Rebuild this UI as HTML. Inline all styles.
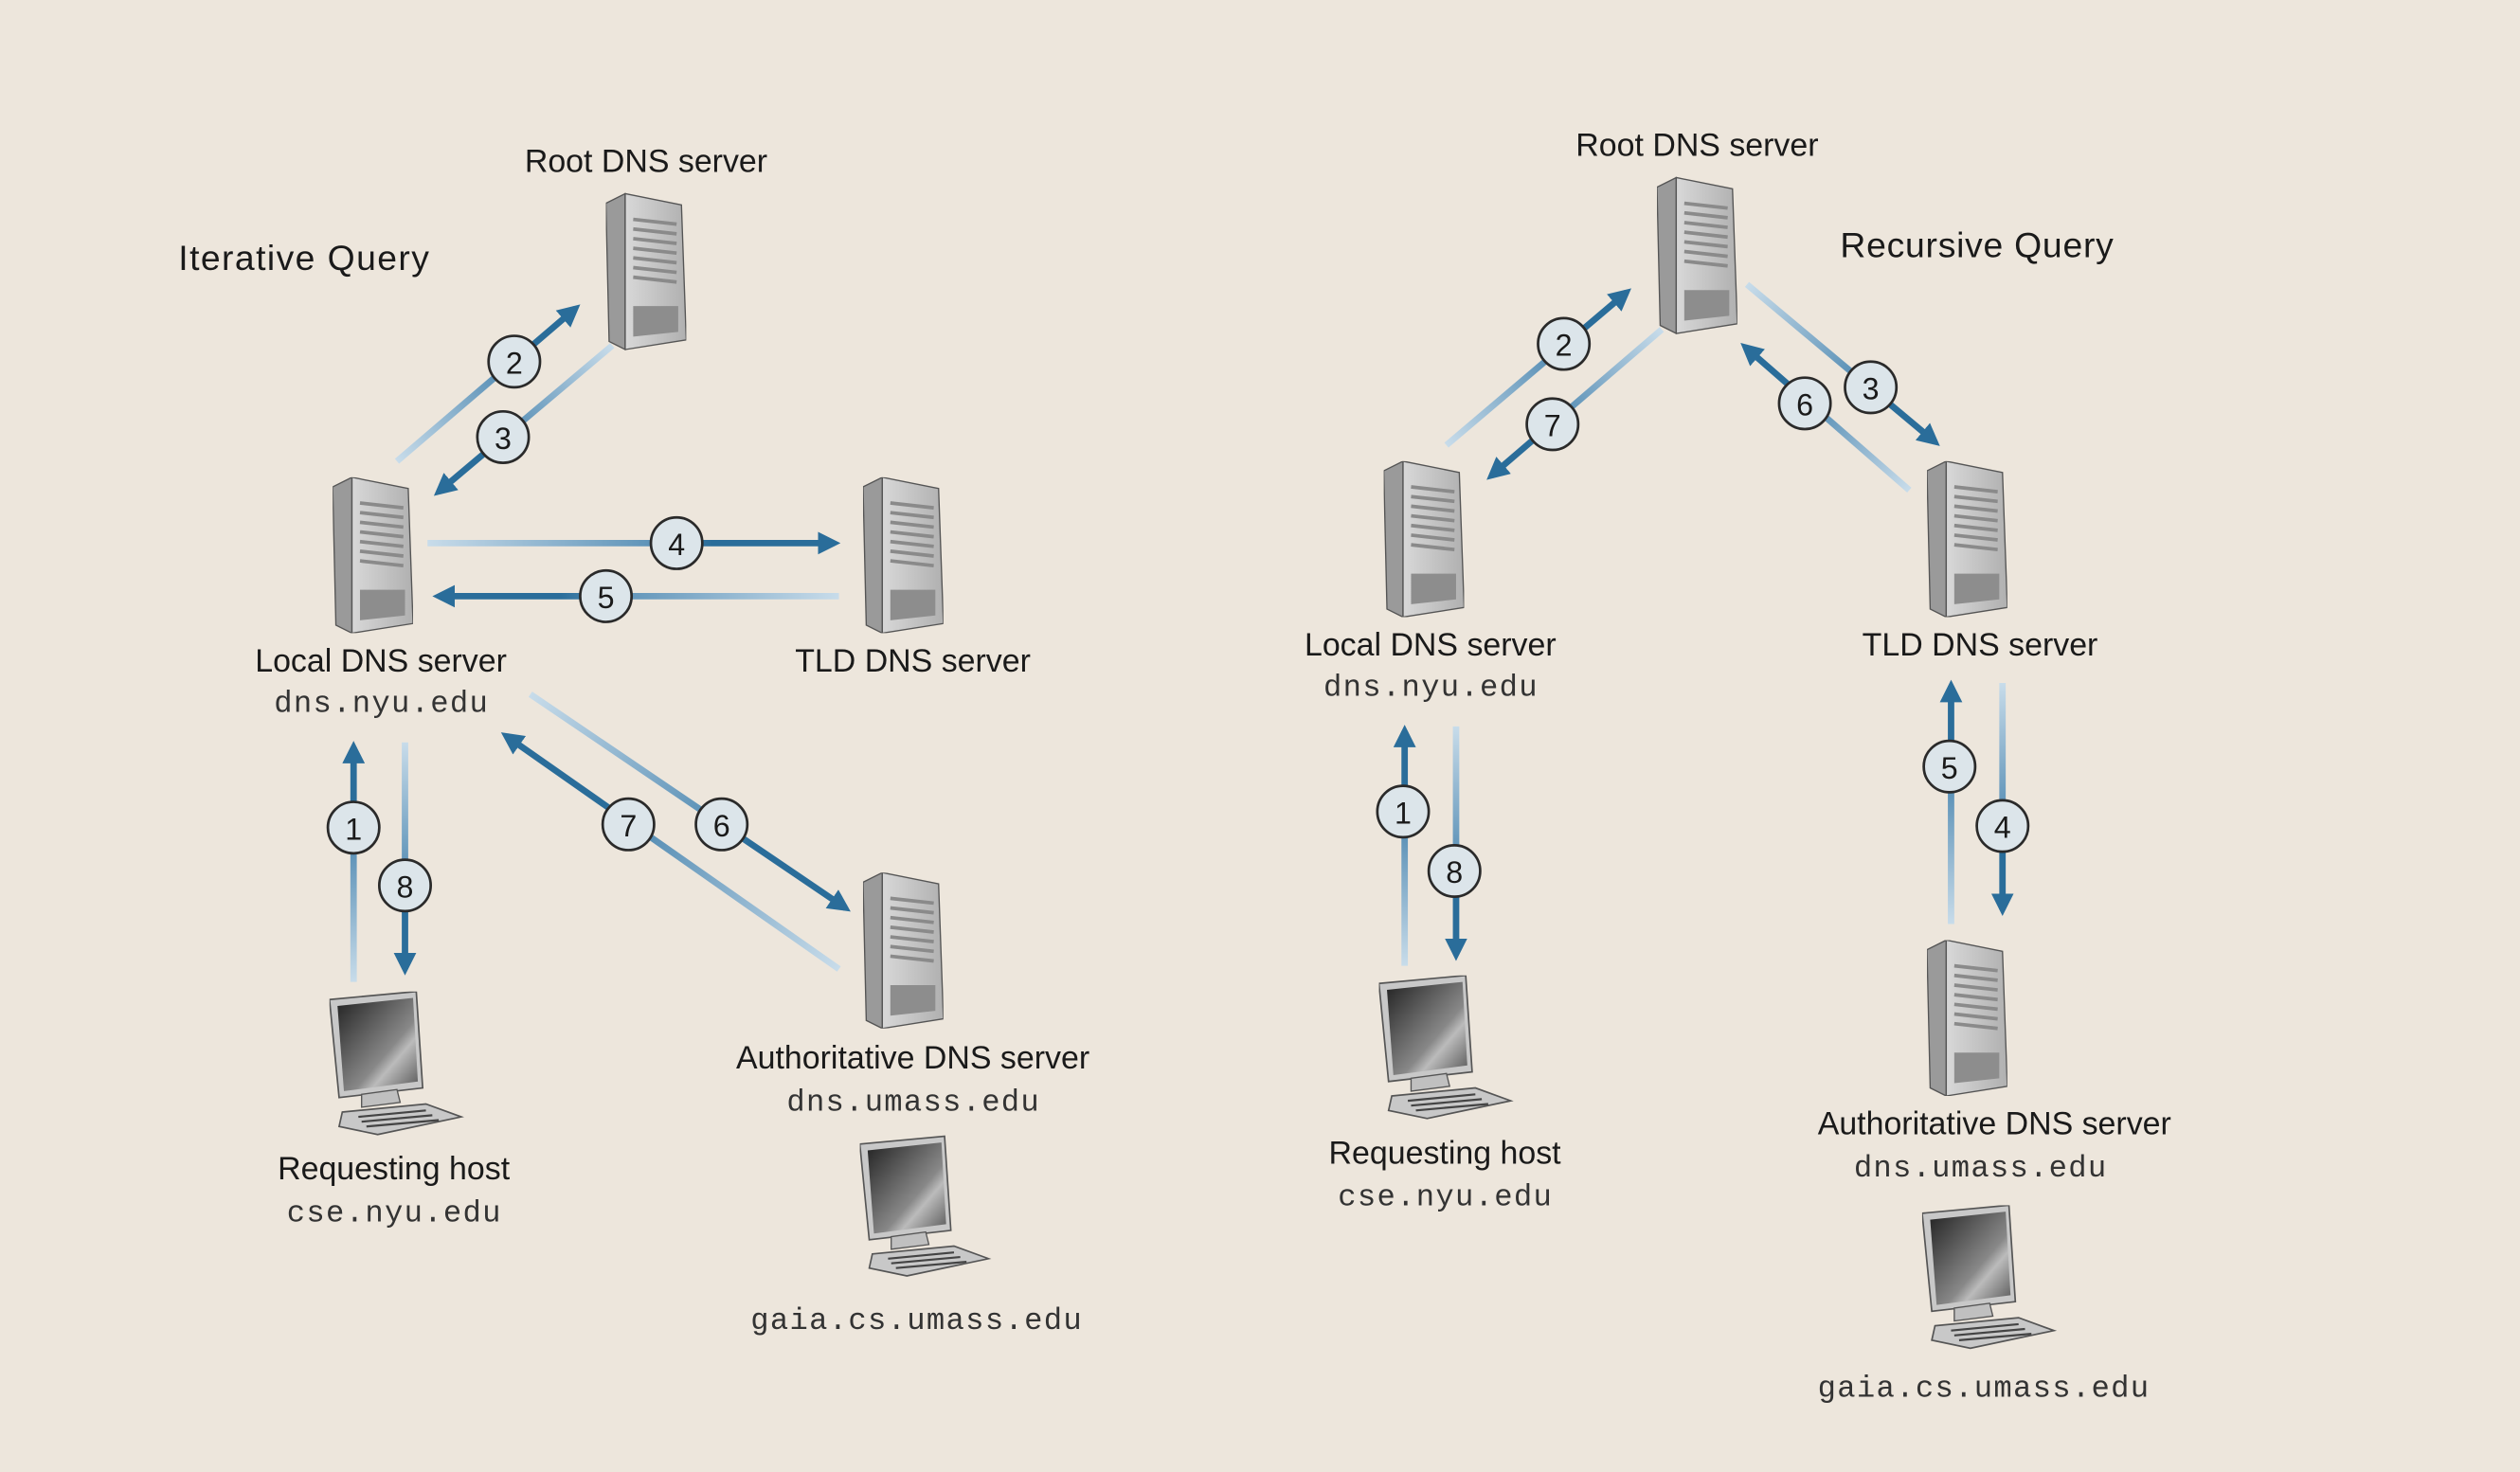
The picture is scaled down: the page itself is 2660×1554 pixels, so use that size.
<!DOCTYPE html>
<html><head><meta charset="utf-8"><style>
html,body{margin:0;padding:0;background:#ede6dc;}
svg{display:block}
.lb{font-family:"Liberation Sans",sans-serif;font-size:20px;fill:#1a1a1a;text-anchor:middle}
.mo{font-family:"Liberation Mono",monospace;font-size:19px;fill:#333;text-anchor:middle}
.t{font-family:"Liberation Sans",sans-serif;font-size:22px;fill:#1a1a1a}
.n{font-family:"Liberation Sans",sans-serif;font-size:19px;fill:#1a1a1a;text-anchor:middle;dominant-baseline:central}
</style></head><body>
<svg width="2660" height="1554" viewBox="0 0 1568 916" preserveAspectRatio="none" xmlns="http://www.w3.org/2000/svg">
<defs>
<marker id="ah" markerUnits="userSpaceOnUse" markerWidth="14" markerHeight="14" viewBox="0 0 14 14" refX="10" refY="7" orient="auto"><path d="M0,0 L14,7 L0,14 z" fill="#2a6d9a"/></marker>
<linearGradient id="front" x1="0" y1="0" x2="1" y2="0"><stop offset="0" stop-color="#d8d8d8"/><stop offset="1" stop-color="#b0b0b0"/></linearGradient>
<linearGradient id="scr" x1="0" y1="0" x2="1" y2="1"><stop offset="0" stop-color="#222"/><stop offset="0.6" stop-color="#888"/><stop offset="0.7" stop-color="#bbb"/><stop offset="1" stop-color="#555"/></linearGradient>
<linearGradient id="base"><stop offset="0" stop-color="#c8dcea"/><stop offset="0.55" stop-color="#5e93b8"/><stop offset="0.7" stop-color="#2a6d9a"/><stop offset="1" stop-color="#2a6d9a"/></linearGradient>
<linearGradient id="g0" href="#base" gradientUnits="userSpaceOnUse" x1="247" y1="287" x2="358" y2="192"/>
<linearGradient id="g1" href="#base" gradientUnits="userSpaceOnUse" x1="381" y1="215" x2="273" y2="306"/>
<linearGradient id="g2" href="#base" gradientUnits="userSpaceOnUse" x1="266" y1="338" x2="519" y2="338"/>
<linearGradient id="g3" href="#base" gradientUnits="userSpaceOnUse" x1="522" y1="371" x2="273" y2="371"/>
<linearGradient id="g4" href="#base" gradientUnits="userSpaceOnUse" x1="330" y1="432" x2="526" y2="565"/>
<linearGradient id="g5" href="#base" gradientUnits="userSpaceOnUse" x1="522" y1="603" x2="315" y2="458"/>
<linearGradient id="g6" href="#base" gradientUnits="userSpaceOnUse" x1="220" y1="611" x2="220" y2="465"/>
<linearGradient id="g7" href="#base" gradientUnits="userSpaceOnUse" x1="252" y1="462" x2="252" y2="603"/>
<linearGradient id="g8" href="#base" gradientUnits="userSpaceOnUse" x1="900" y1="277" x2="1012" y2="182"/>
<linearGradient id="g9" href="#base" gradientUnits="userSpaceOnUse" x1="1034" y1="205" x2="928" y2="296"/>
<linearGradient id="g10" href="#base" gradientUnits="userSpaceOnUse" x1="1087" y1="177" x2="1204" y2="275"/>
<linearGradient id="g11" href="#base" gradientUnits="userSpaceOnUse" x1="1188" y1="305" x2="1086" y2="216"/>
<linearGradient id="g12" href="#base" gradientUnits="userSpaceOnUse" x1="874" y1="601" x2="874" y2="455"/>
<linearGradient id="g13" href="#base" gradientUnits="userSpaceOnUse" x1="906" y1="452" x2="906" y2="594"/>
<linearGradient id="g14" href="#base" gradientUnits="userSpaceOnUse" x1="1214" y1="575" x2="1214" y2="427"/>
<linearGradient id="g15" href="#base" gradientUnits="userSpaceOnUse" x1="1246" y1="425" x2="1246" y2="566"/>
<symbol id="srv" viewBox="0 0 50 97">
<polygon points="0,6 12,0 12,97 2,92" fill="#9a9a9a" stroke="#555" stroke-width="0.8"/>
<polygon points="12,0 47,7 50,91 12,97" fill="url(#front)" stroke="#555" stroke-width="0.8"/>
<g stroke="#8a8a8a" stroke-width="2.2">
<line x1="17" y1="16" x2="44" y2="19"/><line x1="17" y1="22" x2="44" y2="25"/><line x1="17" y1="28" x2="44" y2="31"/><line x1="17" y1="34" x2="44" y2="37"/><line x1="17" y1="40" x2="44" y2="43"/><line x1="17" y1="46" x2="44" y2="49"/><line x1="17" y1="52" x2="44" y2="55"/></g>
<polygon points="17,70 45,70 45,86 17,89" fill="#8d8d8d"/>
</symbol>
<symbol id="pc" viewBox="0 0 85 91">
<polygon points="0,5 54,0 58,60 6,66" fill="#c8c8c8" stroke="#555" stroke-width="1"/>
<polygon points="5,9 52,4 55,56 9,62" fill="url(#scr)"/>
<polygon points="20,64 42,61 44,69 20,72" fill="#c0c0c0" stroke="#555" stroke-width="0.8"/>
<polygon points="8,75 60,70 82,78 30,89 6,84" fill="#c8c8c8" stroke="#555" stroke-width="1"/>
<g stroke="#444" stroke-width="1.3"><line x1="18" y1="78" x2="60" y2="74"/><line x1="20" y1="81" x2="64" y2="77"/><line x1="23" y1="84" x2="68" y2="80"/></g>
</symbol>
</defs>
<rect width="1568" height="916" fill="#ede6dc"/>

<g stroke-width="4" fill="none" marker-end="url(#ah)">
<line x1="247" y1="287" x2="358" y2="192" stroke="url(#g0)" marker-end="url(#ah)"/>
<line x1="381" y1="215" x2="273" y2="306" stroke="url(#g1)" marker-end="url(#ah)"/>
<line x1="266" y1="338" x2="519" y2="338" stroke="url(#g2)" marker-end="url(#ah)"/>
<line x1="522" y1="371" x2="273" y2="371" stroke="url(#g3)" marker-end="url(#ah)"/>
<line x1="330" y1="432" x2="526" y2="565" stroke="url(#g4)" marker-end="url(#ah)"/>
<line x1="522" y1="603" x2="315" y2="458" stroke="url(#g5)" marker-end="url(#ah)"/>
<line x1="220" y1="611" x2="220" y2="465" stroke="url(#g6)" marker-end="url(#ah)"/>
<line x1="252" y1="462" x2="252" y2="603" stroke="url(#g7)" marker-end="url(#ah)"/>
<line x1="900" y1="277" x2="1012" y2="182" stroke="url(#g8)" marker-end="url(#ah)"/>
<line x1="1034" y1="205" x2="928" y2="296" stroke="url(#g9)" marker-end="url(#ah)"/>
<line x1="1087" y1="177" x2="1204" y2="275" stroke="url(#g10)" marker-end="url(#ah)"/>
<line x1="1188" y1="305" x2="1086" y2="216" stroke="url(#g11)" marker-end="url(#ah)"/>
<line x1="874" y1="601" x2="874" y2="455" stroke="url(#g12)" marker-end="url(#ah)"/>
<line x1="906" y1="452" x2="906" y2="594" stroke="url(#g13)" marker-end="url(#ah)"/>
<line x1="1214" y1="575" x2="1214" y2="427" stroke="url(#g14)" marker-end="url(#ah)"/>
<line x1="1246" y1="425" x2="1246" y2="566" stroke="url(#g15)" marker-end="url(#ah)"/>
</g>

<g fill="#dce5ea" stroke="#2a2a2a" stroke-width="1.6">
<circle cx="320" cy="225" r="16"/><circle cx="313" cy="272" r="16"/><circle cx="421" cy="338" r="16"/><circle cx="377" cy="371" r="16"/>
<circle cx="449" cy="513" r="16"/><circle cx="391" cy="513" r="16"/><circle cx="220" cy="515" r="16"/><circle cx="252" cy="551" r="16"/>
<circle cx="973" cy="214" r="16"/><circle cx="966" cy="264" r="16"/><circle cx="1164" cy="241" r="16"/><circle cx="1123" cy="251" r="16"/>
<circle cx="873" cy="505" r="16"/><circle cx="905" cy="542" r="16"/><circle cx="1213" cy="477" r="16"/><circle cx="1246" cy="514" r="16"/>
</g>
<g>
<text class="n" x="320" y="226">2</text><text class="n" x="313" y="273">3</text><text class="n" x="421" y="339">4</text><text class="n" x="377" y="372">5</text>
<text class="n" x="449" y="514">6</text><text class="n" x="391" y="514">7</text><text class="n" x="220" y="516">1</text><text class="n" x="252" y="552">8</text>
<text class="n" x="973" y="215">2</text><text class="n" x="966" y="265">7</text><text class="n" x="1164" y="242">3</text><text class="n" x="1123" y="252">6</text>
<text class="n" x="873" y="506">1</text><text class="n" x="905" y="543">8</text><text class="n" x="1213" y="478">5</text><text class="n" x="1246" y="515">4</text>
</g>

<use href="#srv" x="377" y="120" width="50" height="98"/>
<use href="#srv" x="207" y="297" width="50" height="97"/>
<use href="#srv" x="537" y="297" width="50" height="97"/>
<use href="#srv" x="537" y="543" width="50" height="97"/>
<use href="#srv" x="1031" y="110" width="50" height="98"/>
<use href="#srv" x="861" y="287" width="50" height="97"/>
<use href="#srv" x="1199" y="287" width="50" height="97"/>
<use href="#srv" x="1199" y="585" width="50" height="97"/>
<use href="#pc" x="205" y="617" width="85" height="91"/>
<use href="#pc" x="535" y="706" width="83" height="91"/>
<use href="#pc" x="858" y="607" width="85" height="91"/>
<use href="#pc" x="1196" y="750" width="85" height="91"/>

<text class="t" x="111" y="168" textLength="156">Iterative Query</text>
<text class="t" x="1145" y="160" textLength="170">Recursive Query</text>
<text class="lb" x="402" y="107">Root DNS server</text>
<text class="lb" x="237" y="418">Local DNS server</text>
<text class="mo" x="237" y="443" textLength="133">dns.nyu.edu</text>
<text class="lb" x="568" y="418">TLD DNS server</text>
<text class="lb" x="568" y="665">Authoritative DNS server</text>
<text class="mo" x="568" y="691" textLength="157">dns.umass.edu</text>
<text class="mo" x="570" y="827" textLength="206">gaia.cs.umass.edu</text>
<text class="lb" x="245" y="734">Requesting host</text>
<text class="mo" x="245" y="760" textLength="133">cse.nyu.edu</text>

<text class="lb" x="1056" y="97">Root DNS server</text>
<text class="lb" x="890" y="408">Local DNS server</text>
<text class="mo" x="890" y="433" textLength="133">dns.nyu.edu</text>
<text class="lb" x="1232" y="408">TLD DNS server</text>
<text class="lb" x="1241" y="706">Authoritative DNS server</text>
<text class="mo" x="1232" y="732" textLength="157">dns.umass.edu</text>
<text class="mo" x="1234" y="869" textLength="206">gaia.cs.umass.edu</text>
<text class="lb" x="899" y="724">Requesting host</text>
<text class="mo" x="899" y="750" textLength="133">cse.nyu.edu</text>
</svg>
</body></html>
